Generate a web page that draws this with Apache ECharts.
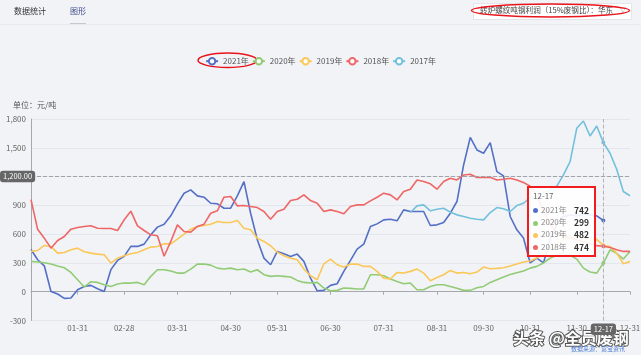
<!DOCTYPE html>
<html>
<head>
<meta charset="utf-8">
<script src="https://cdn.jsdelivr.net/npm/echarts@6/dist/echarts.min.js"></script>
<style>
html, body { margin: 0; padding: 0; background: #f2f3f6; }
#main { width: 641px; height: 355px; }
</style>
</head>
<body>
<div id="main"></div>
<script>
var categories = [
	'01-02', '01-06', '01-10', '01-14', '01-18', '01-22', '01-26', '01-31',
	'02-04', '02-08', '02-12', '02-16', '02-20', '02-24', '02-28',
	'03-04', '03-08', '03-12', '03-16', '03-19', '03-23', '03-27', '03-31',
	'04-04', '04-08', '04-12', '04-15', '04-19', '04-22', '04-26', '04-30',
	'05-04', '05-09', '05-13', '05-17', '05-22', '05-26', '05-31',
	'06-04', '06-08', '06-11', '06-15', '06-19', '06-22', '06-26', '06-30',
	'07-04', '07-08', '07-12', '07-16', '07-19', '07-23', '07-27', '07-31',
	'08-04', '08-08', '08-12', '08-16', '08-19', '08-23', '08-27', '08-31',
	'09-04', '09-08', '09-13', '09-17', '09-21', '09-25', '09-30',
	'10-09', '10-13', '10-16', '10-20', '10-23', '10-27', '10-31',
	'11-04', '11-09', '11-13', '11-17', '11-21', '11-26', '11-30',
	'12-04', '12-08', '12-13', '12-17', '12-21', '12-25', '12-28', '12-31'
];
var tickLabels = ['01-31', '02-28', '03-31', '04-30', '05-31', '06-30', '07-31', '08-31', '09-30', '10-31', '11-30', '12-31'];

var y2021 = [
	440, 333, 270, 3, -24, -69, -66, 21, 55, 66, 31, 3, 230, 326, 368,
	472, 472, 496, 593, 673, 704, 791, 916, 1026, 1061, 999, 985, 922, 916, 870,
	870, 999, 1148, 818, 541, 350, 281, 420, 395, 368, 392, 316, 142, 10, 14,
	66, 83, 212, 326, 444, 496, 680, 707, 749, 756, 739, 853, 836, 836, 836,
	690, 697, 721, 818, 940, 1321, 1609, 1477, 1443, 1554, 1252, 1207, 784, 645, 560,
	300, 350, 300, 550, 700, 780, 800, 790, 810, 800, 790, 742, null, null, null, null
];
var y2020 = [
	316, 309, 302, 288, 267, 250, 201, 125, 49, 104, 97, 73, 55, 80, 90,
	90, 97, 73, 160, 229, 229, 215, 194, 194, 236, 288, 288, 277, 246, 236,
	246, 229, 236, 205, 229, 177, 160, 166, 160, 153, 118, 97, 90, 97, 38,
	10, 14, 38, 35, 28, 30, 177, 177, 166, 132, 107, 83, 90, 21, 21,
	55, 73, 73, 55, 35, 14, 14, 42, 55, 97, 125, 153, 180, 198, 215,
	246, 264, 300, 350, 380, 400, 380, 340, 246, 205, 194, 299, 437, 400, 340, 420
];
var y2019 = [
	420, 430, 482, 472, 402, 409, 437, 454, 416, 402, 392, 385, 298, 350, 375,
	395, 409, 437, 465, 472, 499, 499, 548, 600, 652, 680, 690, 704, 732, 721,
	721, 742, 662, 645, 558, 524, 479, 413, 375, 350, 333, 236, 166, 125, 291,
	340, 281, 257, 288, 288, 264, 264, 212, 142, 132, 201, 194, 212, 236, 194,
	114, 149, 177, 222, 194, 201, 187, 205, 257, 239, 243, 250, 267, 288, 309,
	320, 350, 400, 450, 500, 540, 570, 580, 560, 540, 545, 482, 470, 402, 291, 315
];
var y2018 = [
	960, 650, 558, 454, 534, 575, 652, 669, 680, 687, 662, 659, 659, 638, 749,
	840, 687, 638, 593, 583, 370, 524, 697, 628, 621, 680, 704, 818, 843, 985,
	992, 895, 898, 888, 877, 836, 756, 836, 860, 950, 964, 1009, 950, 922, 836,
	853, 836, 812, 888, 905, 905, 947, 985, 1027, 1009, 957, 1044, 1068, 1165, 1148,
	1124, 1068, 1148, 1183, 1165, 1217, 1224, 1190, 1190, 1193, 1165, 1172, 1183, 1165, 1138,
	1100, 1000, 850, 700, 620, 580, 560, 540, 520, 500, 480, 474, 460, 437, 420, 420
];
var y2017 = [
	null, null, null, null, null, null, null, null, null, null, null, null, null, null, null,
	null, null, null, null, null, null, null, null, null, null, null, null, null, null, null,
	null, null, null, null, null, null, null, null, null, null, null, null, null, null, null,
	null, null, null, null, null, null, null, null, null, null, null, null, 825, 895, 905,
	843, 860, 870, 829, 801, 784, 766, 756, 749, 825, 877, 864, 836, 898, 922,
	980, 1000, 1030, 1060, 1100, 1217, 1356, 1703, 1779, 1623, 1727, 1554, 1443, 1276, 1044, 1000
];

var seriesNames = ['2021年', '2020年', '2019年', '2018年', '2017年'];
var seriesData = [y2021, y2020, y2019, y2018, y2017];
var colors = ['#5470c6', '#91cc75', '#fac858', '#ee6666', '#73c0de'];
var pointerDate = '12-17';
var pointerValue = 1200;

var font = "'Noto Sans CJK SC', 'Noto Sans', sans-serif";
var myChart = echarts.init(document.getElementById('main'));

var series = seriesNames.map(function (name, i) {
	return {
		name: name,
		type: 'line',
		data: seriesData[i],
		symbol: 'emptyCircle',
		symbolSize: 0,
		showSymbol: false,
		lineStyle: { width: 1.6 },
		emphasis: { disabled: true }
	};
});

var option = {
	backgroundColor: '#f2f3f6',
	animation: false,
	color: colors,
	textStyle: { fontFamily: font },
	title: {
		text: '单位：元/吨',
		left: 8,
		top: 96,
		textStyle: { fontSize: 8, fontWeight: 'normal', color: '#555' }
	},
	legend: {
		data: seriesNames,
		top: 52,
		left: 'center',
		itemWidth: 12,
		itemHeight: 8,
		itemGap: 3,
		textStyle: { fontSize: 8, color: '#555' }
	},
	grid: { left: 31, right: 11, top: 119, bottom: 34.5, outerBoundsMode: 'none', containLabel: false },
	tooltip: {
		trigger: 'axis',
		alwaysShowContent: true,
		position: [526.5, 186],
		backgroundColor: 'rgba(255,255,255,0.9)',
		borderColor: '#f21c1c',
		borderWidth: 2,
		padding: [2, 5, 2, 4],
		extraCssText: 'box-shadow:none;border-radius:0;',
		axisPointer: {
			type: 'cross',
			lineStyle: { color: '#b0b3ba', type: 'dashed', width: 1 },
			crossStyle: { color: '#a0a3aa', type: 'dashed', width: 1 },
			label: {
				backgroundColor: '#666',
				fontSize: 7.5,
				padding: [2, 3],
				formatter: function (p) {
					if (p.axisDimension === 'y') {
						return Number(p.value).toLocaleString('en-US', { minimumFractionDigits: 2, maximumFractionDigits: 2 });
					}
					return typeof p.value === 'number' ? categories[p.value] : p.value;
				}
			}
		},
		formatter: function (params) {
			var rows = params.filter(function (p) {
				return p.value != null && p.seriesName !== '2017年';
			});
			var html = '<div style="width:56px;font-family:' + font.replace(/'/g, '') + '">';
			html += '<div style="color:#666;font-size:8px;line-height:12px;margin-bottom:2px">' + params[0].axisValue + '</div>';
			rows.forEach(function (p) {
				html += '<div style="line-height:12.2px;font-size:8px;white-space:nowrap">' +
					'<span style="display:inline-block;width:5px;height:5px;border-radius:50%;background:' + p.color + ';margin-right:3px;vertical-align:middle"></span>' +
					'<span style="color:#888">' + p.seriesName + '</span>' +
					'<span style="float:right;color:#333;font-weight:bold;font-size:8.5px">' + p.value + '</span></div>';
			});
			return html + '</div>';
		}
	},
	xAxis: {
		type: 'category',
		data: categories,
		boundaryGap: false,
		axisLine: { onZero: true, lineStyle: { color: '#a6a8ad' } },
		axisTick: {
			show: true,
			length: 3,
			interval: function (index, value) { return tickLabels.indexOf(value) >= 0; },
			lineStyle: { color: '#a6a8ad' }
		},
		axisLabel: {
			fontSize: 8,
			color: '#666',
			margin: 3,
			interval: function (index, value) { return tickLabels.indexOf(value) >= 0; }
		},
		axisPointer: { label: { margin: 3 } },
		splitLine: { show: false }
	},
	yAxis: {
		type: 'value',
		min: -300,
		max: 1800,
		interval: 300,
		axisLine: { show: true, lineStyle: { color: '#a6a8ad' } },
		axisTick: { show: false },
		axisLabel: {
			fontSize: 8,
			color: '#666',
			margin: 5,
			formatter: function (v) { return v.toLocaleString('en-US'); }
		},
		splitLine: { lineStyle: { color: '#e3e6ed' } }
	},
	graphic: [
		{ type: 'line', shape: { x1: 0, y1: 24.5, x2: 641, y2: 24.5 }, style: { stroke: '#e7e9ee', lineWidth: 1 } },
		{ type: 'text', left: 14, top: 7, style: { text: '数据统计', font: '8px ' + font, fill: '#333' } },
		{ type: 'text', left: 70, top: 7, style: { text: '图形', font: '8px ' + font, fill: '#3f4c8c' } },
		{ type: 'line', shape: { x1: 70, y1: 23.5, x2: 86, y2: 23.5 }, style: { stroke: '#c3c8d4', lineWidth: 1 } },
		{ type: 'rect', shape: { x: 473.5, y: 3.5, width: 158, height: 16 }, style: { fill: '#ffffff', stroke: '#e3e5ea', lineWidth: 1 } },
		{ type: 'text', left: 480, top: 6, style: { text: '转炉螺纹吨钢利润（15%废钢比）：华东', font: '7.6px ' + font, fill: '#444' } },
		{ type: 'text', left: 619, top: 5.5, style: { text: '∨', font: '8px ' + font, fill: '#c0c2c8' } },
		{ type: 'ellipse', shape: { cx: 550.5, cy: 10.5, rx: 79, ry: 6.5 }, style: { fill: 'none', stroke: '#e8141c', lineWidth: 1.5 } },
		{ type: 'ellipse', shape: { cx: 227.5, cy: 60.3, rx: 29.5, ry: 7.2 }, style: { fill: 'none', stroke: '#e8141c', lineWidth: 1.5 } },
		{ type: 'text', left: 512, top: 329, style: { text: '头条 @全员废钢', font: 'bold 16px ' + font, fill: '#ffffff', stroke: '#555', lineWidth: 2, strokeFirst: true } },
		{ type: 'text', left: 571, top: 346, style: { text: '数据来源：富宝资讯', font: '6px ' + font, fill: '#4f7fd8' } }
	],
	series: series
};
myChart.setOption(option);

var px = myChart.convertToPixel({ xAxisIndex: 0 }, pointerDate);
var py = myChart.convertToPixel({ yAxisIndex: 0 }, pointerValue);
myChart.dispatchAction({ type: 'showTip', x: px, y: py });
</script>
</body>
</html>
